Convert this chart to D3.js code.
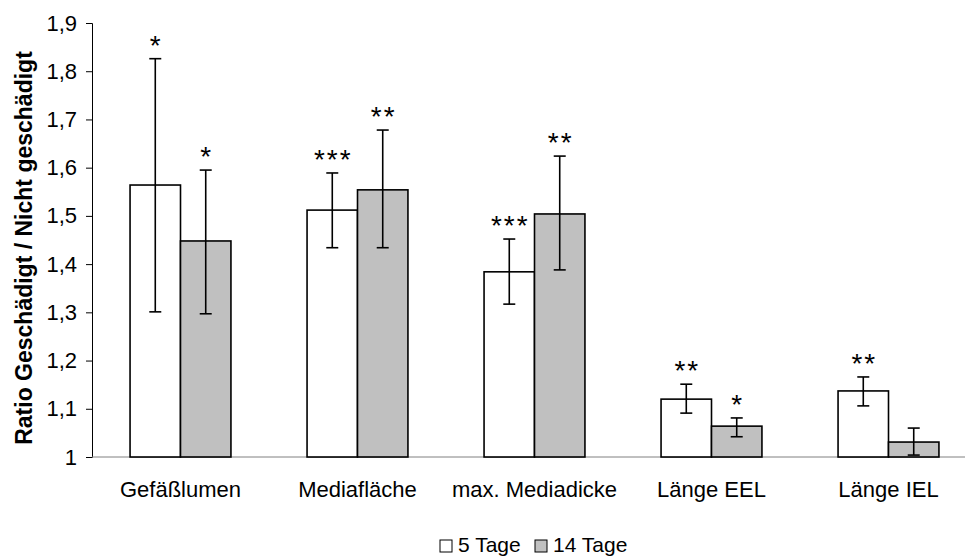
<!DOCTYPE html>
<html>
<head>
<meta charset="utf-8">
<script src="https://cdn.jsdelivr.net/npm/d3@7"></script>
<style>
  body { margin: 0; background: #fff; }
  text { font-family: Arial, "Liberation Sans", sans-serif; fill: #000; }
</style>
</head>
<body>
<div id="chart"></div>
<script>
// values
var categories = ['Gefäßlumen', 'Mediafläche', 'max. Mediadicke', 'Länge EEL', 'Länge IEL'];
var series = ['5 Tage', '14 Tage'];
var means5  = [1.564, 1.512, 1.384, 1.120, 1.137];
var lo5     = [1.301, 1.434, 1.317, 1.091, 1.106];
var hi5     = [1.826, 1.589, 1.452, 1.151, 1.166];
var stars5  = ['*', '***', '***', '**', '**'];
var means14 = [1.448, 1.554, 1.504, 1.064, 1.031];
var lo14    = [1.297, 1.434, 1.388, 1.042, 1.004];
var hi14    = [1.595, 1.678, 1.624, 1.081, 1.060];
var stars14 = ['*', '**', '**', '*', ''];
var yTicks  = [1, 1.1, 1.2, 1.3, 1.4, 1.5, 1.6, 1.7, 1.8, 1.9];

var width = 965, height = 557,
    margins = {top: 23, left: 92, bottom: 100},
    fills = ['#ffffff', '#c0c0c0'];

var svg = d3.select('#chart').append('svg')
  .attr('width', width)
  .attr('height', height);

var x = d3.scaleBand()
  .domain(categories)
  .range([margins.left, margins.left + 5 * 177])
  .paddingInner(0.43)
  .paddingOuter(0.215);

var xs = d3.scaleBand().domain(series).range([0, x.bandwidth()]);

var y = d3.scaleLinear()
  .domain([1, 1.9])
  .range([height - margins.bottom, margins.top]);

var fmt = function(d) { return d === 1 ? '1' : d3.format('.1f')(d).replace('.', ','); };

// y axis
var yAxis = svg.append('g')
  .attr('transform', 'translate(' + margins.left + ',0)')
  .call(d3.axisLeft(y).tickValues(yTicks).tickSize(6).tickPadding(9).tickFormat(fmt));
yAxis.select('.domain').attr('stroke', '#000');
yAxis.selectAll('.tick line').attr('stroke', '#000');
yAxis.selectAll('.tick text')
  .style('font-size', '22px')
  .style('font-family', 'Arial, "Liberation Sans", sans-serif');

// x axis baseline
svg.append('line')
  .attr('x1', margins.left).attr('x2', width)
  .attr('y1', y(1)).attr('y2', y(1))
  .attr('stroke', '#808080').attr('stroke-width', 1);

var rows = categories.map(function(c, i) {
  return [
    {cat: c, s: series[0], v: means5[i], lo: lo5[i], hi: hi5[i], star: stars5[i], fill: fills[0]},
    {cat: c, s: series[1], v: means14[i], lo: lo14[i], hi: hi14[i], star: stars14[i], fill: fills[1]}
  ];
}).flat();

var g = svg.append('g');

g.selectAll('rect.bar').data(rows).enter().append('rect')
  .attr('class', 'bar')
  .attr('x', function(d) { return x(d.cat) + xs(d.s); })
  .attr('y', function(d) { return y(d.v); })
  .attr('width', xs.bandwidth())
  .attr('height', function(d) { return y(1) - y(d.v); })
  .attr('fill', function(d) { return d.fill; })
  .attr('stroke', '#000')
  .attr('stroke-width', 1.6);

var cx = function(d) { return x(d.cat) + xs(d.s) + xs.bandwidth() / 2; };

var err = g.selectAll('g.err').data(rows).enter().append('g').attr('class', 'err')
  .attr('stroke', '#000').attr('stroke-width', 1.6);
err.append('line')
  .attr('x1', cx).attr('x2', cx)
  .attr('y1', function(d) { return y(d.lo); })
  .attr('y2', function(d) { return y(d.hi); });
err.append('line')
  .attr('x1', function(d) { return cx(d) - 6; }).attr('x2', function(d) { return cx(d) + 6; })
  .attr('y1', function(d) { return y(d.hi); }).attr('y2', function(d) { return y(d.hi); });
err.append('line')
  .attr('x1', function(d) { return cx(d) - 6; }).attr('x2', function(d) { return cx(d) + 6; })
  .attr('y1', function(d) { return y(d.lo); }).attr('y2', function(d) { return y(d.lo); });

g.selectAll('text.star').data(rows).enter().append('text')
  .attr('class', 'star')
  .attr('x', function(d) { return cx(d) + 1; })
  .attr('y', function(d) { return y(d.hi) - 4; })
  .attr('text-anchor', 'middle')
  .style('font-size', '28px')
  .style('letter-spacing', '2px')
  .text(function(d) { return d.star; });

// category labels
svg.selectAll('text.cat').data(categories).enter().append('text')
  .attr('class', 'cat')
  .attr('x', function(d) { return x(d) + x.bandwidth() / 2; })
  .attr('y', 497)
  .attr('text-anchor', 'middle')
  .style('font-size', '22px')
  .text(function(d) { return d; });

// y title
svg.append('text')
  .attr('transform', 'translate(32,' + ((y(1) + y(1.9)) / 2 + 8) + ') rotate(-90)')
  .attr('text-anchor', 'middle')
  .style('font-size', '23px')
  .style('font-weight', 'bold')
  .text('Ratio Geschädigt / Nicht geschädigt');

// legend
var legend = svg.append('g').attr('transform', 'translate(440,540)');
var items = legend.selectAll('g').data(series).enter().append('g')
  .attr('transform', function(d, i) { return 'translate(' + (i * 95) + ',0)'; });
items.append('rect')
  .attr('width', 12).attr('height', 12)
  .attr('fill', function(d, i) { return fills[i]; })
  .attr('stroke', '#000').attr('stroke-width', 1);
items.append('text')
  .attr('x', 18).attr('y', 12)
  .style('font-size', '21px')
  .text(function(d) { return d; });
</script>
</body>
</html>
